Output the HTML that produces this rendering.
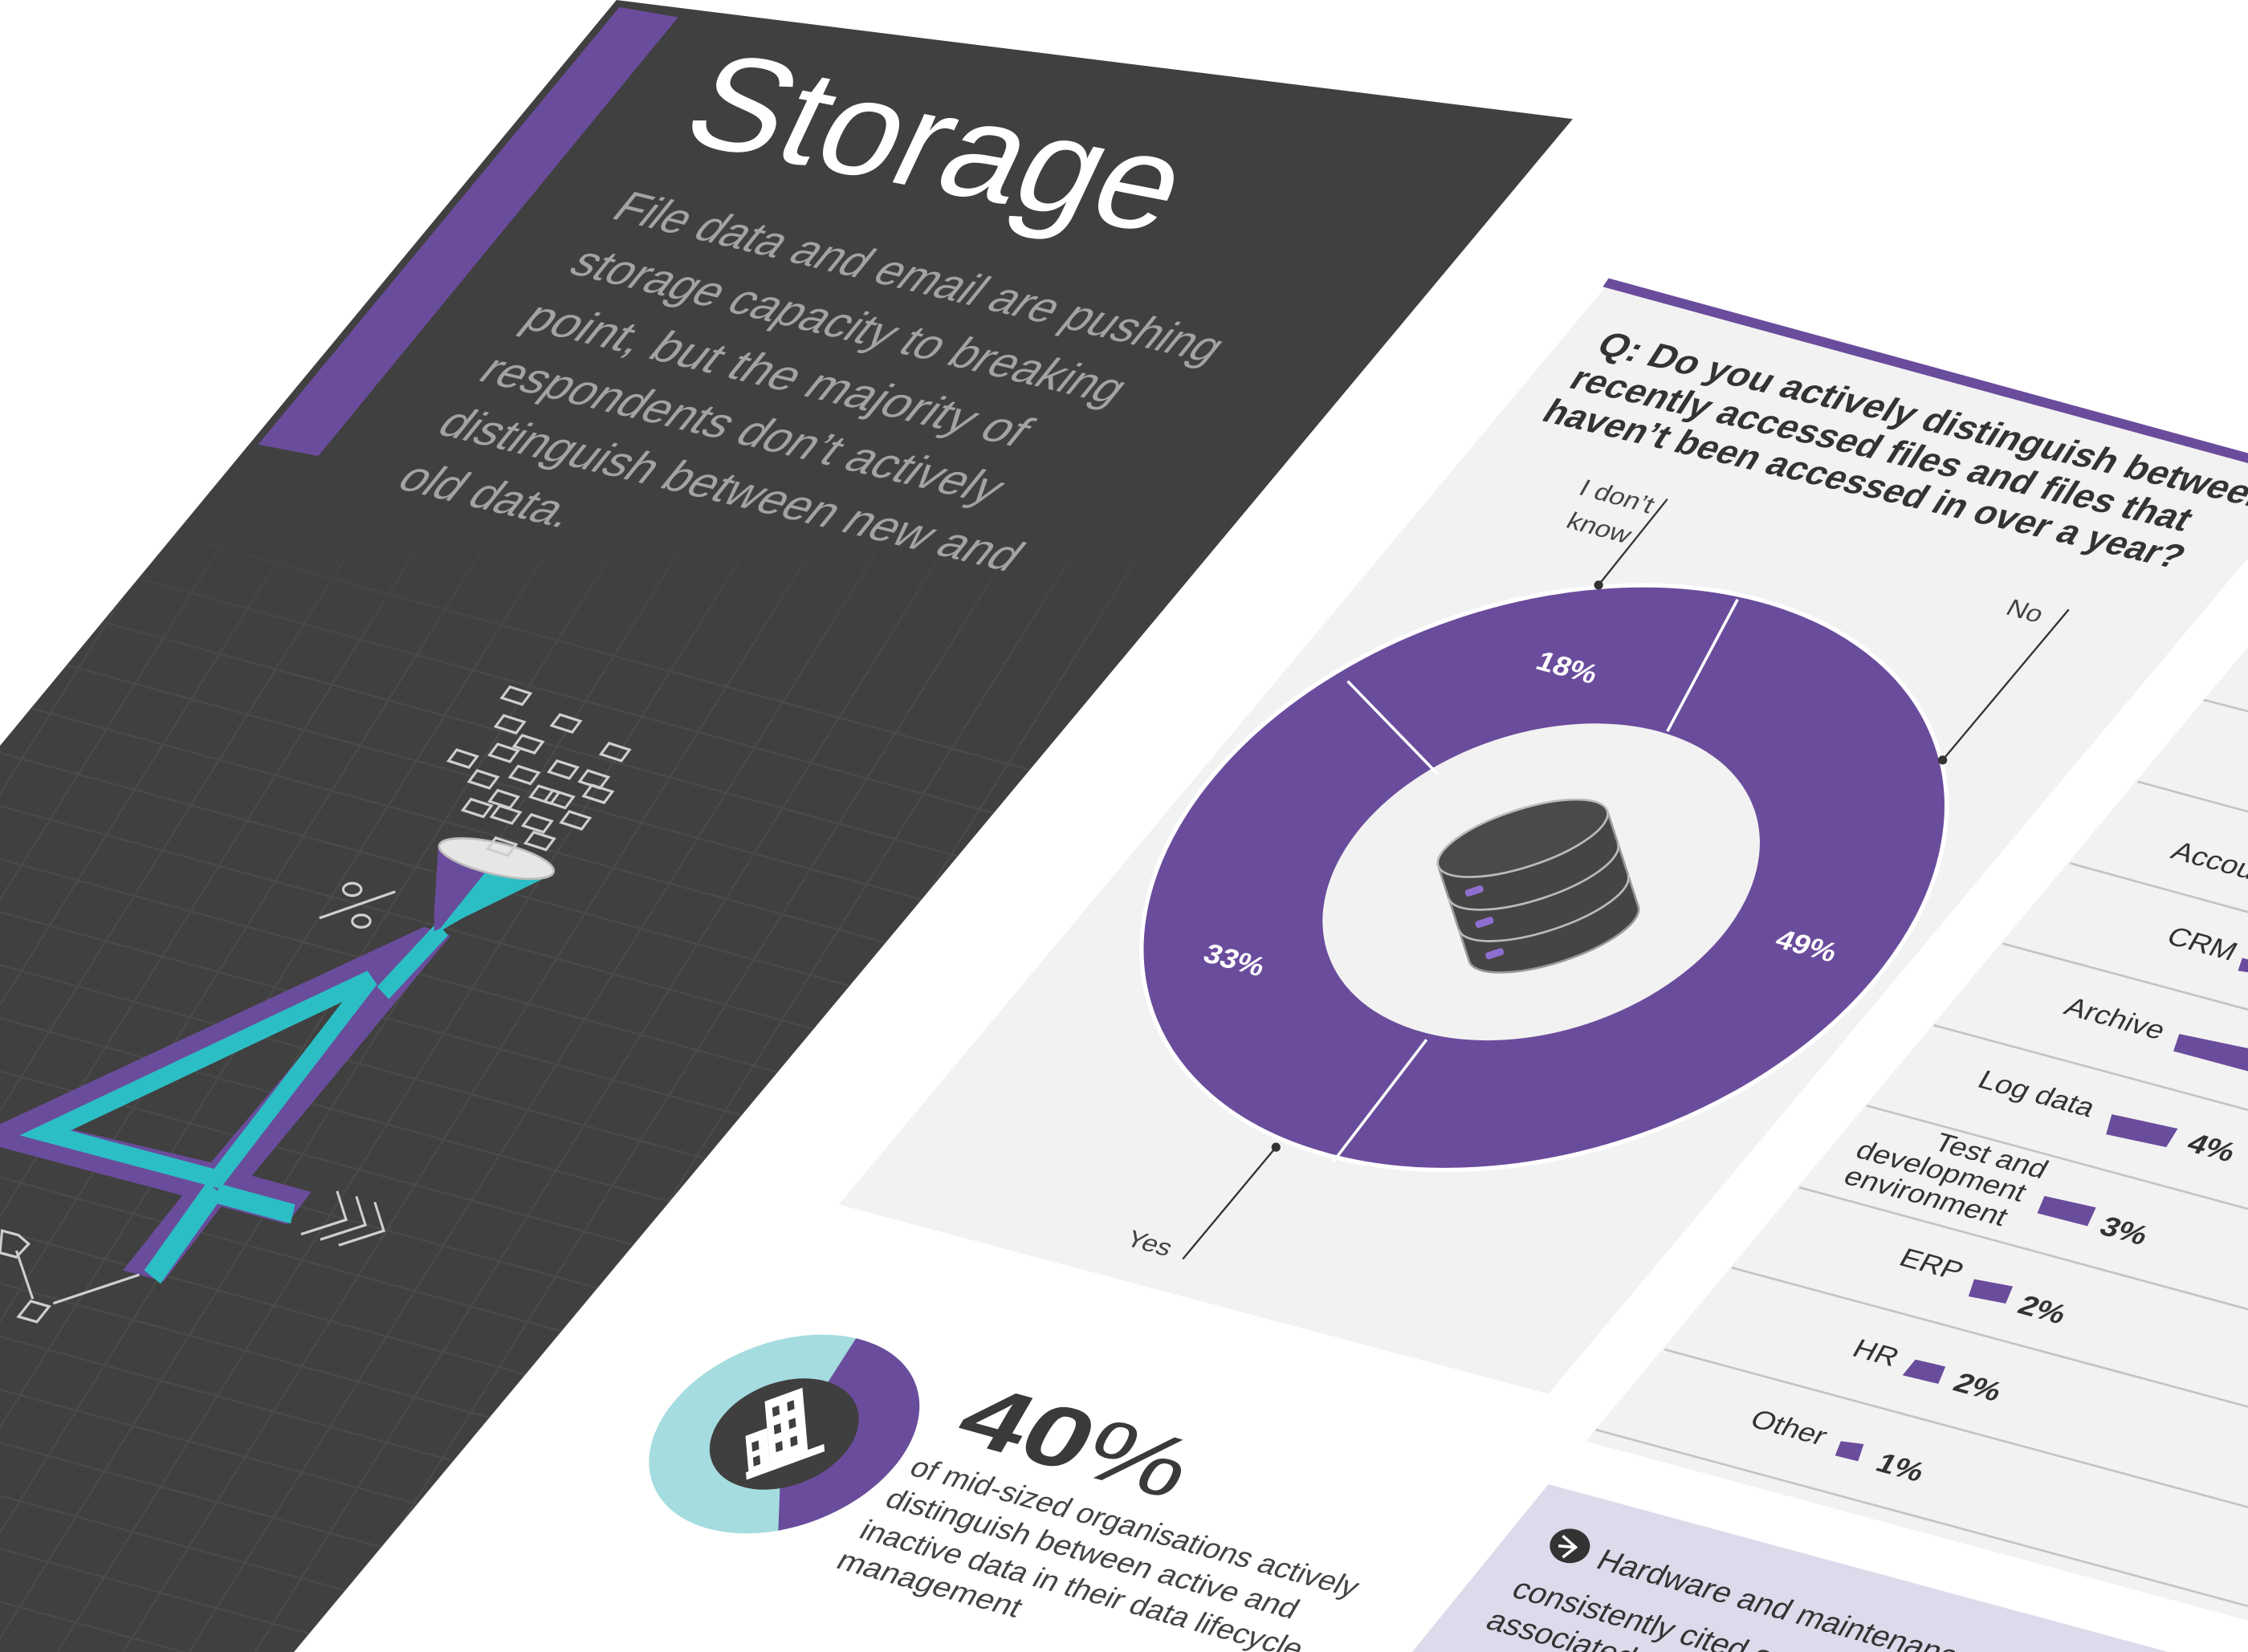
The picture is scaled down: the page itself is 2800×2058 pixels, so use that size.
<!DOCTYPE html>
<html><head><meta charset="utf-8"><style>
html,body{margin:0;padding:0;background:#fff;width:2800px;height:2058px;overflow:hidden}
svg{display:block;position:absolute;left:0;top:0}
text{font-family:"Liberation Sans",sans-serif}
</style></head><body>
<svg width="2800" height="2058" viewBox="0 0 1568 1152" preserveAspectRatio="none" xmlns="http://www.w3.org/2000/svg">
<defs>
<clipPath id="panel"><polygon points="430,0 1097,83 205,1152 0,1152 0,520"/></clipPath>
<clipPath id="all"><rect x="0" y="0" width="1568" height="1152"/></clipPath>
<linearGradient id="fade" x1="0" y1="330" x2="0" y2="470" gradientUnits="userSpaceOnUse"><stop offset="0" stop-color="#000"/><stop offset="1" stop-color="#fff"/></linearGradient>
<mask id="gm"><rect x="0" y="0" width="1568" height="1152" fill="url(#fade)"/></mask>
<clipPath id="sd"><ellipse cx="547" cy="1000" rx="98" ry="64" transform="rotate(-21 547 1000)"/></clipPath>
</defs>
<g clip-path="url(#all)">
<rect width="1568" height="1152" fill="#fff"/>

<polygon points="430,0 1097,83 205,1152 0,1152 0,520" fill="#404040"/>
<g clip-path="url(#panel)" mask="url(#gm)" stroke="#4a4a4a" stroke-width="1.3" fill="none">
<path d="M0,340L1200,669M0,377L1200,706M0,414L1200,743M0,451L1200,780M0,488L1200,817M0,525L1200,854M0,562L1200,891M0,599L1200,928M0,636L1200,965M0,673L1200,1002M0,710L1200,1039M0,747L1200,1076M0,784L1200,1113M0,821L1200,1150M0,858L1200,1187M0,895L1200,1224M0,932L1200,1261M0,969L1200,1298M0,1006L1200,1335M0,1043L1200,1372M0,1080L1200,1409M0,1117L1200,1446"/>
<path d="M300,0L-420,1152M346,0L-374,1152M392,0L-328,1152M438,0L-282,1152M484,0L-236,1152M530,0L-190,1152M576,0L-144,1152M622,0L-98,1152M668,0L-52,1152M714,0L-6,1152M760,0L40,1152M806,0L86,1152M852,0L132,1152M898,0L178,1152M944,0L224,1152M990,0L270,1152M1036,0L316,1152M1082,0L362,1152"/>
</g>
<polygon points="432,5 473,12 222,318 180,310" fill="#6a4c9c"/>

<text transform="matrix(0.982,0.19,-0.40,0.85,472,98)" font-size="106" fill="#fff" textLength="342" lengthAdjust="spacingAndGlyphs">Storage</text>
<g fill="#a3a3a3" font-size="40">
<text transform="matrix(0.972,0.235,-0.55,0.68,425,152)" textLength="430" lengthAdjust="spacingAndGlyphs">File data and email are pushing</text>
<text transform="matrix(0.972,0.235,-0.55,0.68,395,190)" textLength="391" lengthAdjust="spacingAndGlyphs">storage capacity to breaking</text>
<text transform="matrix(0.972,0.235,-0.55,0.68,362,228)" textLength="356" lengthAdjust="spacingAndGlyphs">point, but the majority of</text>
<text transform="matrix(0.972,0.235,-0.55,0.68,332,265)" textLength="368" lengthAdjust="spacingAndGlyphs">respondents don’t actively</text>
<text transform="matrix(0.972,0.235,-0.55,0.68,303,302)" textLength="411" lengthAdjust="spacingAndGlyphs">distinguish between new and</text>
<text transform="matrix(0.972,0.235,-0.55,0.68,275,340)" textLength="120" lengthAdjust="spacingAndGlyphs">old data.</text>
</g>

<g transform="translate(0,459) scale(0.2857,0.3071)">
<path fill-rule="evenodd" fill="#6a4c9c" d="M1035,610L1100,630L615,1175L760,1212L700,1285L540,1245L400,1415L300,1390L445,1220L0,1110L0,1058Z M860,765L175,1070L515,1145Z"/>
<path d="M905,728L110,1078L530,1182Z" fill="none" stroke="#2bbfc5" stroke-width="40" stroke-linejoin="miter"/>
<path d="M530,1215L715,1262" stroke="#2bbfc5" stroke-width="45"/>
<path d="M525,1205L372,1405" stroke="#2bbfc5" stroke-width="50"/>
<path d="M1080,615L935,760" stroke="#2bbfc5" stroke-width="40"/>
<polygon points="1070,425 1190,480 1130,590 1060,620 1060,575" fill="#6a4c9c"/>
<polygon points="1190,480 1350,490 1130,590 1065,625" fill="#2bbfc5"/>
<ellipse cx="1212" cy="455" rx="143" ry="36" transform="rotate(12 1212 455)" fill="#e6e6e6" stroke="#bbb" stroke-width="5"/>
<g fill="none" stroke="#cfcfcf" stroke-width="6">
<path d="M1245,65l50,15l-20,25l-50,-15z M1230,130l50,15l-20,25l-50,-15z M1367,128l50,15l-20,25l-50,-15z M1275,175l50,15l-20,25l-50,-15z M1215,195l50,15l-20,25l-50,-15z M1115,208l50,15l-20,25l-50,-15z M1487,193l50,15l-20,25l-50,-15z M1165,255l50,15l-20,25l-50,-15z M1265,245l50,15l-20,25l-50,-15z M1360,233l50,15l-20,25l-50,-15z M1435,255l50,15l-20,25l-50,-15z M1315,290l50,15l-20,25l-50,-15z M1350,300l50,15l-20,25l-50,-15z M1445,288l50,15l-20,25l-50,-15z M1150,320l50,15l-20,25l-50,-15z M1215,300l50,15l-20,25l-50,-15z M1220,335l50,15l-20,25l-50,-15z M1297,355l50,15l-20,25l-50,-15z M1390,348l50,15l-20,25l-50,-15z M1303,395l50,15l-20,25l-50,-15z M1210,408l50,15l-20,25l-50,-15z"/>
<path d="M823,1210L845,1275L735,1308M870,1222L892,1287L782,1320M915,1235L937,1300L827,1333"/>
<path d="M780,590L965,530"/>
<ellipse cx="860" cy="525" rx="22" ry="14"/><ellipse cx="882" cy="597" rx="22" ry="14"/>
<path d="M5,1300l40,10l25,20l-30,30l-40,-10z M75,1460l45,12l-30,35l-45,-12z M40,1345L80,1455M130,1465L340,1400"/>
</g>
</g>

<polygon points="1120,200 1568,323 1568,389 1080,972 585,840" fill="#f2f2f2"/>
<polygon points="1122,194 1568,316 1568,323 1118,200" fill="#6a4c9c"/>
<g fill="#333" font-weight="bold" font-size="28">
<text transform="matrix(0.974,0.228,-0.5,0.78,1112,246)" textLength="480" lengthAdjust="spacingAndGlyphs">Q: Do you actively distinguish between</text>
<text transform="matrix(0.974,0.228,-0.5,0.78,1093,270)" textLength="441" lengthAdjust="spacingAndGlyphs">recently accessed files and files that</text>
<text transform="matrix(0.974,0.228,-0.5,0.78,1074,293)" textLength="455" lengthAdjust="spacingAndGlyphs">haven’t been accessed in over a year?</text>
</g>
<ellipse cx="1077" cy="612" rx="289" ry="192" transform="rotate(-18.5 1077 612)" fill="#6a4c9c" stroke="#fff" stroke-width="3"/>
<ellipse cx="1075" cy="615" rx="157" ry="104" transform="rotate(-18.5 1075 615)" fill="#f2f2f2"/>
<g stroke="#fff" stroke-width="2"><path d="M1003,540L940,475M1163,510L1212,418M995,725L930,810"/></g>
<g fill="#fff" font-weight="bold" font-size="21">
<text transform="matrix(0.965,0.262,-0.4,0.85,1070,466)">18%</text>
<text transform="matrix(0.965,0.262,-0.4,0.85,1237,660)">49%</text>
<text transform="matrix(0.965,0.262,-0.4,0.85,838,670)">33%</text>
</g>
<g stroke="#333" stroke-width="1.3" fill="#333">
<path d="M1163,348L1115,408M1443,425L1355,530M825,878L890,800" fill="none"/>
<circle cx="1115" cy="408" r="2.5"/><circle cx="1355" cy="530" r="2.5"/><circle cx="890" cy="800" r="2.5"/>
</g>
<g fill="#444" font-size="19">
<text transform="matrix(0.965,0.262,-0.45,0.8,1150,358)" text-anchor="end">I don’t</text>
<text transform="matrix(0.965,0.262,-0.45,0.8,1134,379)" text-anchor="end">know</text>
<text transform="matrix(0.965,0.262,-0.45,0.8,1398,428)">No</text>
<text transform="matrix(0.965,0.262,-0.45,0.8,784,868)">Yes</text>
</g>
<g transform="translate(1072,615) rotate(-18)">
<path d="M-62,-32 L-62,38 A62,20 0 0 0 62,38 L62,-32 Z" fill="#454545" stroke="#999" stroke-width="1.5"/>
<ellipse cx="0" cy="-32" rx="62" ry="20" fill="#4a4a4a" stroke="#bbb" stroke-width="1.5"/>
<path d="M-62,-8 A62,20 0 0 0 62,-8 M-62,15 A62,20 0 0 0 62,15" fill="none" stroke="#bbb" stroke-width="1.5"/>
<g fill="#8e6fd0"><rect x="-50" y="-10" width="13" height="5" rx="2"/><rect x="-50" y="13" width="13" height="5" rx="2"/><rect x="-50" y="36" width="13" height="5" rx="2"/></g>
</g>

<polygon points="1568,451 1568,1130 1106,1005" fill="#f2f2f2"/>
<g stroke="#c4c4c4" stroke-width="1.5">
<path d="M1537,488L1568,496M1491,545L1568,566M1444,602L1568,636M1397,658L1568,704M1349,715L1568,774M1302,771L1568,843M1255,828L1568,913M1208,884L1568,981M1161,941L1568,1051M1113,997L1568,1120"/>
</g>
<g fill="#6a4c9c">
<polygon points="1520,721 1568,731 1568,747 1516,733"/>
<polygon points="1564,668 1568,669 1568,678 1561,677"/>
<polygon points="1473,777 1519,787 1511,800 1469,791"/>
<polygon points="1426,834 1462,842 1456,855 1421,846"/>
<polygon points="1377,892 1404,897 1399,909 1373,904"/>
<polygon points="1336,948 1357,953 1352,965 1327,959"/>
<polygon points="1284,1005 1300,1007 1296,1019 1280,1015"/>
</g>
<g fill="#333" font-size="21">
<text transform="matrix(0.965,0.262,-0.45,0.8,1513,598)">Accounts</text>
<text transform="matrix(0.965,0.262,-0.45,0.8,1556,670)" text-anchor="end">CRM</text>
<text transform="matrix(0.965,0.262,-0.45,0.8,1506,725)" text-anchor="end">Archive</text>
<text transform="matrix(0.965,0.262,-0.45,0.8,1457,779)" text-anchor="end">Log data</text>
<text transform="matrix(0.965,0.262,-0.45,0.8,1424,822)" text-anchor="end">Test and</text>
<text transform="matrix(0.965,0.262,-0.45,0.8,1409,838)" text-anchor="end">development</text>
<text transform="matrix(0.965,0.262,-0.45,0.8,1396,855)" text-anchor="end">environment</text>
<text transform="matrix(0.965,0.262,-0.45,0.8,1365,893)" text-anchor="end">ERP</text>
<text transform="matrix(0.965,0.262,-0.45,0.8,1320,953)" text-anchor="end">HR</text>
<text transform="matrix(0.965,0.262,-0.45,0.8,1270,1008)" text-anchor="end">Other</text>
</g>
<g fill="#333" font-size="22" font-weight="bold">
<text transform="matrix(0.965,0.262,-0.45,0.8,1524,802)">4%</text>
<text transform="matrix(0.965,0.262,-0.45,0.8,1463,860)">3%</text>
<text transform="matrix(0.965,0.262,-0.45,0.8,1406,915)">2%</text>
<text transform="matrix(0.965,0.262,-0.45,0.8,1361,969)">2%</text>
<text transform="matrix(0.965,0.262,-0.45,0.8,1307,1025)">1%</text>
</g>

<polygon points="1080,1035 1568,1167 1568,1152 985,1152" fill="#dedaeb"/>
<ellipse cx="1095" cy="1078" rx="14" ry="12" fill="#333"/>
<path d="M1090,1071L1099,1079L1090,1086M1087,1078L1099,1079" stroke="#fff" stroke-width="2" fill="none"/>
<g fill="#333" font-size="22">
<text transform="matrix(0.963,0.267,-0.5,0.86,1112,1093)">Hardware and maintenance is</text>
<text transform="matrix(0.963,0.267,-0.5,0.86,1053,1113)">consistently cited as the</text>
<text transform="matrix(0.963,0.267,-0.5,0.86,1035,1135)">associated with</text>
</g>

<ellipse cx="547" cy="1000" rx="98" ry="64" transform="rotate(-21 547 1000)" fill="#a5dcdf"/>
<polygon clip-path="url(#sd)" points="612,910 578,963 544,1037 542,1090 700,1090 700,910" fill="#6a4c9c"/>
<ellipse cx="547" cy="1000" rx="54" ry="36" transform="rotate(-21 547 1000)" fill="#3f3f3f"/>
<g transform="translate(547,1000) rotate(-20) skewX(-15)" fill="#fff">
<rect x="-30" y="16" width="58" height="5"/>
<rect x="-12" y="-26" width="28" height="44"/>
<rect x="-28" y="-8" width="16" height="26"/>
<g fill="#3f3f3f"><rect x="-7" y="-20" width="5" height="6"/><rect x="4" y="-20" width="5" height="6"/><rect x="-7" y="-8" width="5" height="6"/><rect x="4" y="-8" width="5" height="6"/><rect x="-7" y="4" width="5" height="6"/><rect x="4" y="4" width="5" height="6"/><rect x="-24" y="-2" width="5" height="6"/><rect x="-24" y="8" width="5" height="6"/></g>
</g>
<text transform="matrix(0.963,0.267,-0.5,0.86,663,1003)" font-size="64" fill="#3a3a3a" font-weight="bold" textLength="160" lengthAdjust="spacingAndGlyphs">40<tspan font-weight="normal">%</tspan></text>
<g fill="#444" font-size="21">
<text transform="matrix(0.963,0.267,-0.5,0.86,633,1028)" textLength="322" lengthAdjust="spacingAndGlyphs">of mid-sized organisations actively</text>
<text transform="matrix(0.963,0.267,-0.5,0.86,616,1050)" textLength="296" lengthAdjust="spacingAndGlyphs">distinguish between active  and</text>
<text transform="matrix(0.963,0.267,-0.5,0.86,598,1072)" textLength="318" lengthAdjust="spacingAndGlyphs">inactive data in their data lifecycle</text>
<text transform="matrix(0.963,0.267,-0.5,0.86,582,1093)" textLength="131" lengthAdjust="spacingAndGlyphs">management</text>
</g>
</g>
</svg>
</body></html>
